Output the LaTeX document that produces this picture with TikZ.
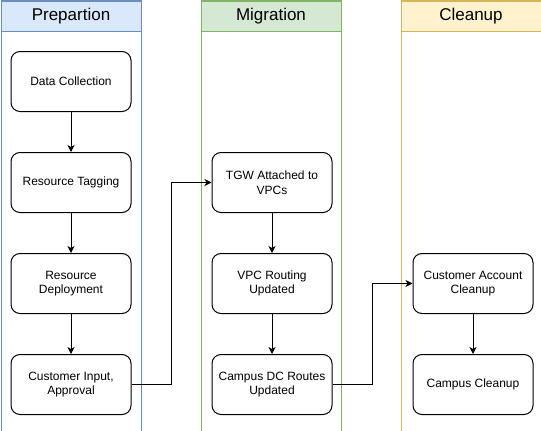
\documentclass[tikz,border=0pt]{standalone}
\usepackage{fontspec}
\setmainfont{Liberation Sans}
\usetikzlibrary{arrows.meta,positioning}

\definecolor{prepline}{HTML}{6C8EBF}
\definecolor{prepfill}{HTML}{DAE8FC}
\definecolor{migline}{HTML}{82B366}
\definecolor{migfill}{HTML}{D5E8D4}
\definecolor{cleanline}{HTML}{D6B656}
\definecolor{cleanfill}{HTML}{FFF2CC}

\begin{document}
\begin{tikzpicture}[
  x=1pt, y=-1pt,
  node distance=40pt and 80pt,
  line width=1pt,
  lane/.style={draw, minimum width=140pt, minimum height=430pt,
    anchor=north west, inner sep=0pt},
  head/.style={draw, anchor=north, minimum width=140pt, minimum height=30pt,
    inner sep=0pt, font=\fontsize{17}{20}\selectfont},
  stepbox/.style={draw=black, rounded corners=9pt, align=center,
    minimum width=120pt, minimum height=60pt, inner sep=0pt,
    font=\fontsize{12}{14.5}\selectfont},
  arrow/.style={-{Stealth[length=7pt, width=7pt, inset=2pt]}}
]
  \useasboundingbox (0,0) rectangle (541,431);

  % swimlanes
  \node[lane, draw=prepline] (prep) at (0.5,0.5) {};
  \node[lane, draw=migline] (mig) at (200.5,0.5) {};
  \node[lane, draw=cleanline] (clean) at (400.5,0.5) {};
  \node[head, draw=prepline, fill=prepfill] (prephead) at (prep.north) {Prepartion};
  \node[head, draw=migline, fill=migfill] (mighead) at (mig.north) {Migration};
  \node[head, draw=cleanline, fill=cleanfill] (cleanhead) at (clean.north) {Cleanup};

  % preparation
  \node[stepbox, below=19.5pt of prephead] (collect) {Data Collection};
  \node[stepbox, below=of collect] (tagging) {Resource Tagging};
  \node[stepbox, below=of tagging] (deploy) {Resource\\Deployment};
  \node[stepbox, below=of deploy] (approval) {Customer Input,\\Approval};

  % migration
  \node[stepbox, right=of tagging] (tgw) {TGW Attached to\\VPCs};
  \node[stepbox, below=of tgw] (routing) {VPC Routing\\Updated};
  \node[stepbox, below=of routing] (dcroutes) {Campus DC Routes\\Updated};

  % cleanup
  \node[stepbox, right=of routing] (account) {Customer Account\\Cleanup};
  \node[stepbox, below=of account] (campus) {Campus Cleanup};

  \draw[arrow] (collect) -- (tagging);
  \draw[arrow] (tagging) -- (deploy);
  \draw[arrow] (deploy) -- (approval);
  \draw[arrow] (approval.east) -- ++(40,0) |- (tgw.west);
  \draw[arrow] (tgw) -- (routing);
  \draw[arrow] (routing) -- (dcroutes);
  \draw[arrow] (dcroutes.east) -- ++(40,0) |- (account.west);
  \draw[arrow] (account) -- (campus);
\end{tikzpicture}
\end{document}
